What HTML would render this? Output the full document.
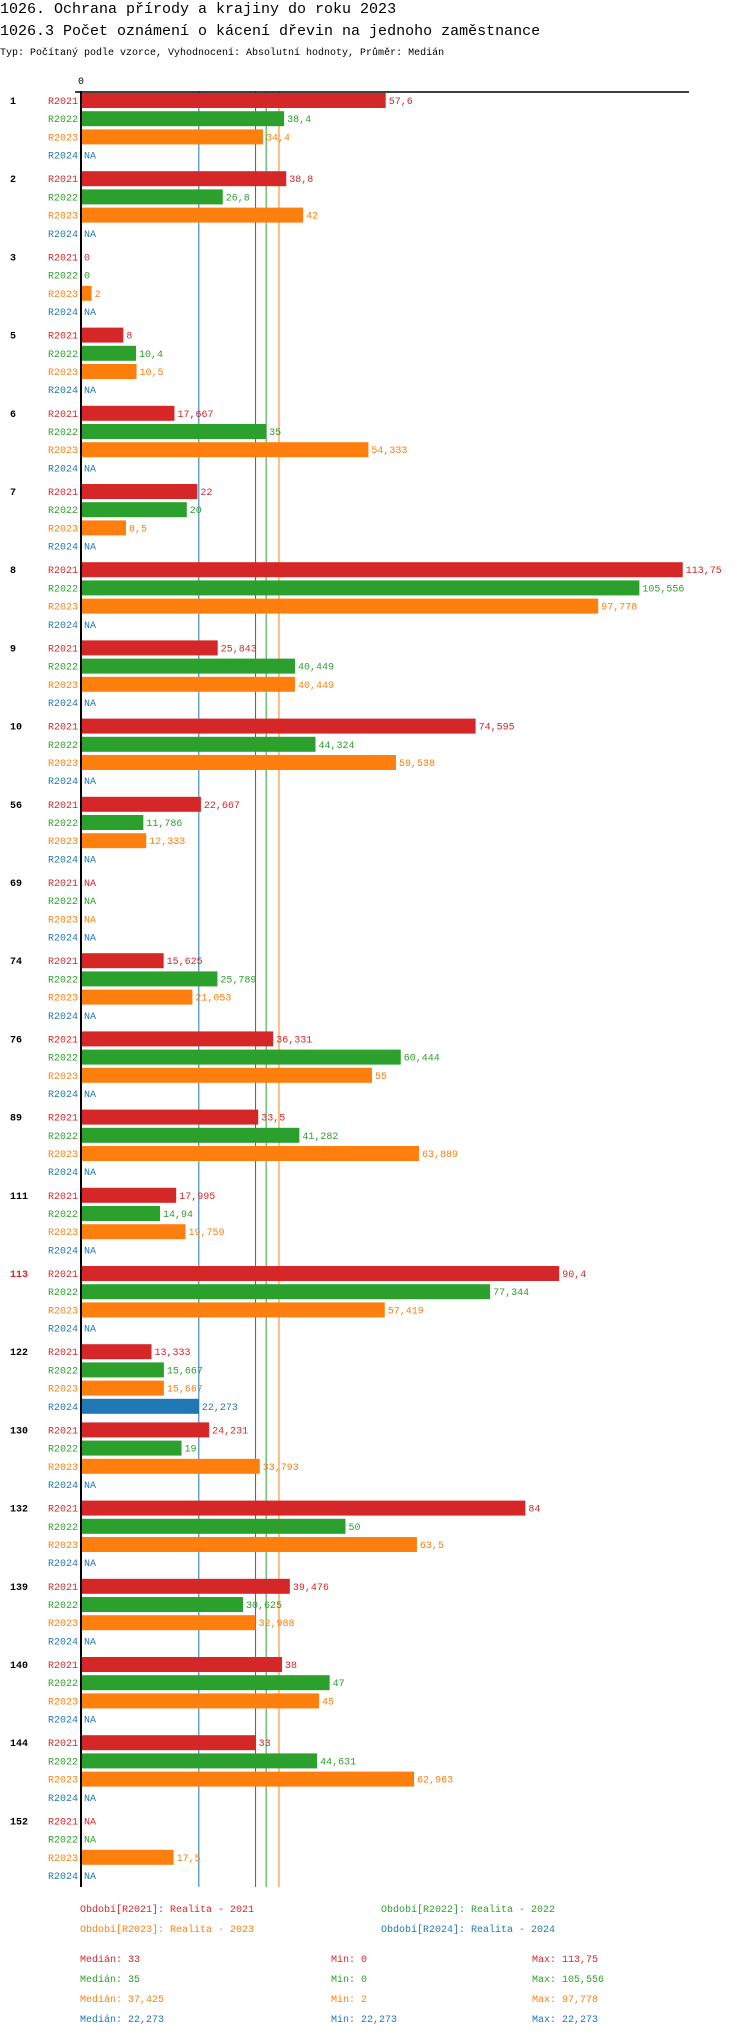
<!DOCTYPE html>
<html><head><meta charset="utf-8">
<style>
html,body{margin:0;padding:0;background:#fff;}
svg{display:block;font-family:"Liberation Mono",monospace;}
</style></head>
<body>
<svg id="chart" width="750" height="2036" xmlns="http://www.w3.org/2000/svg">
<text x="0" y="13" font-size="15" fill="#000">1026. Ochrana přírody a krajiny do roku 2023</text>
<text x="0" y="35" font-size="15" fill="#000">1026.3 Počet oznámení o kácení dřevin na jednoho zaměstnance</text>
<text x="0" y="55" font-size="10" fill="#000">Typ: Počítaný podle vzorce, Vyhodnocení: Absolutní hodnoty, Průměr: Medián</text>
<text x="78" y="84" font-size="10" fill="#000">0</text>
<g id="plot"></g>
</svg>
<script>
const groups = ["1","2","3","5","6","7","8","9","10","56","69","74","76","89","111","113","122","130","132","139","140","144","152"];
const seriesNames = ["R2021","R2022","R2023","R2024"];
const r2021 = [57.6,38.8,0,8,17.667,22,113.75,25.843,74.595,22.667,null,15.625,36.331,33.5,17.995,90.4,13.333,24.231,84,39.476,38,33,null];
const r2022 = [38.4,26.8,0,10.4,35,20,105.556,40.449,44.324,11.786,null,25.789,60.444,41.282,14.94,77.344,15.667,19,50,30.625,47,44.631,null];
const r2023 = [34.4,42,2,10.5,54.333,8.5,97.778,40.449,59.538,12.333,null,21.053,55,63.889,19.759,57.419,15.667,33.793,63.5,32.988,45,62.963,17.5];
const r2024 = [null,null,null,null,null,null,null,null,null,null,null,null,null,null,null,null,22.273,null,null,null,null,null,null];
const medians = [33,35,37.425,22.273];
const mins = ["0","0","2","22,273"];
const maxs = ["113,75","105,556","97,778","22,273"];
const medianLabels = ["33","35","37,425","22,273"];
const highlightGroup = "113";

const colors = ["#d62728","#2ca02c","#ff7f0e","#1f77b4"];
const series = [r2021,r2022,r2023,r2024];
const NS = "http://www.w3.org/2000/svg";
const plot = document.getElementById("plot");
const x0 = 81, pxPerUnit = 5.29;
const xScale = v => x0 + v * pxPerUnit;
const groupTop = 93, groupPitch = 78.2, rowPitch = 18.2, barH = 15;
const rowY = (g, s) => groupTop + g * groupPitch + s * rowPitch;
const fmt = v => String(v).replace(".", ",");
function el(tag, attrs) { const e = document.createElementNS(NS, tag); for (const k in attrs) e.setAttribute(k, attrs[k]); plot.appendChild(e); return e; }
function txt(x, y, s, fill, size, extra) { const t = el("text", Object.assign({x: x, y: y, "font-size": size || 10, fill: fill}, extra || {})); t.textContent = s; return t; }

const plotBottom = 1887;
medians.forEach((m, i) => {
  const l = el("line", {x1: xScale(m), x2: xScale(m), y1: 92, y2: plotBottom, stroke: colors[i], "stroke-width": 1});
  
  
});

groups.forEach((g, gi) => {
  const gl = txt(10, rowY(gi, 0) + 11, g, g === highlightGroup ? "#d62728" : "#000", 10, {"font-weight": "bold"});
  
  
  series.forEach((arr, si) => {
    const y = rowY(gi, si);
    const sl = txt(78, y + 11, seriesNames[si], colors[si], 10, {"text-anchor": "end"});
    
    
    const v = arr[gi];
    if (v === null) {
      const na = txt(84, y + 11, "NA", colors[si], 10);
      
      
    } else {
      const b = el("rect", {x: x0, y: y, width: Math.max(0, xScale(v) - x0), height: barH, fill: colors[si]});
      
      
      const vl = txt(xScale(v) + 3, y + 11, fmt(v), colors[si], 10);
      
      
    }
  });
});

const xa = el("line", {x1: 75, x2: 689, y1: 92, y2: 92, stroke: "#000", "stroke-width": 1.5});


const ya = el("line", {x1: x0, x2: x0, y1: 91, y2: plotBottom, stroke: "#000", "stroke-width": 2});



const legendPos = [[80,1912],[381,1912],[80,1932],[381,1932]];
seriesNames.forEach((s, i) => {
  const t = txt(legendPos[i][0], legendPos[i][1], "Období[" + s + "]: Realita - " + s.slice(1), colors[i], 10);
  
  
});
seriesNames.forEach((s, i) => {
  const y = 1962 + i * 20;
  const a = txt(80, y, "Medián: " + medianLabels[i], colors[i], 10);
  
  
  const b = txt(331, y, "Min: " + mins[i], colors[i], 10);
  
  
  const c = txt(532, y, "Max: " + maxs[i], colors[i], 10);
  
  
});
</script>
</body></html>
